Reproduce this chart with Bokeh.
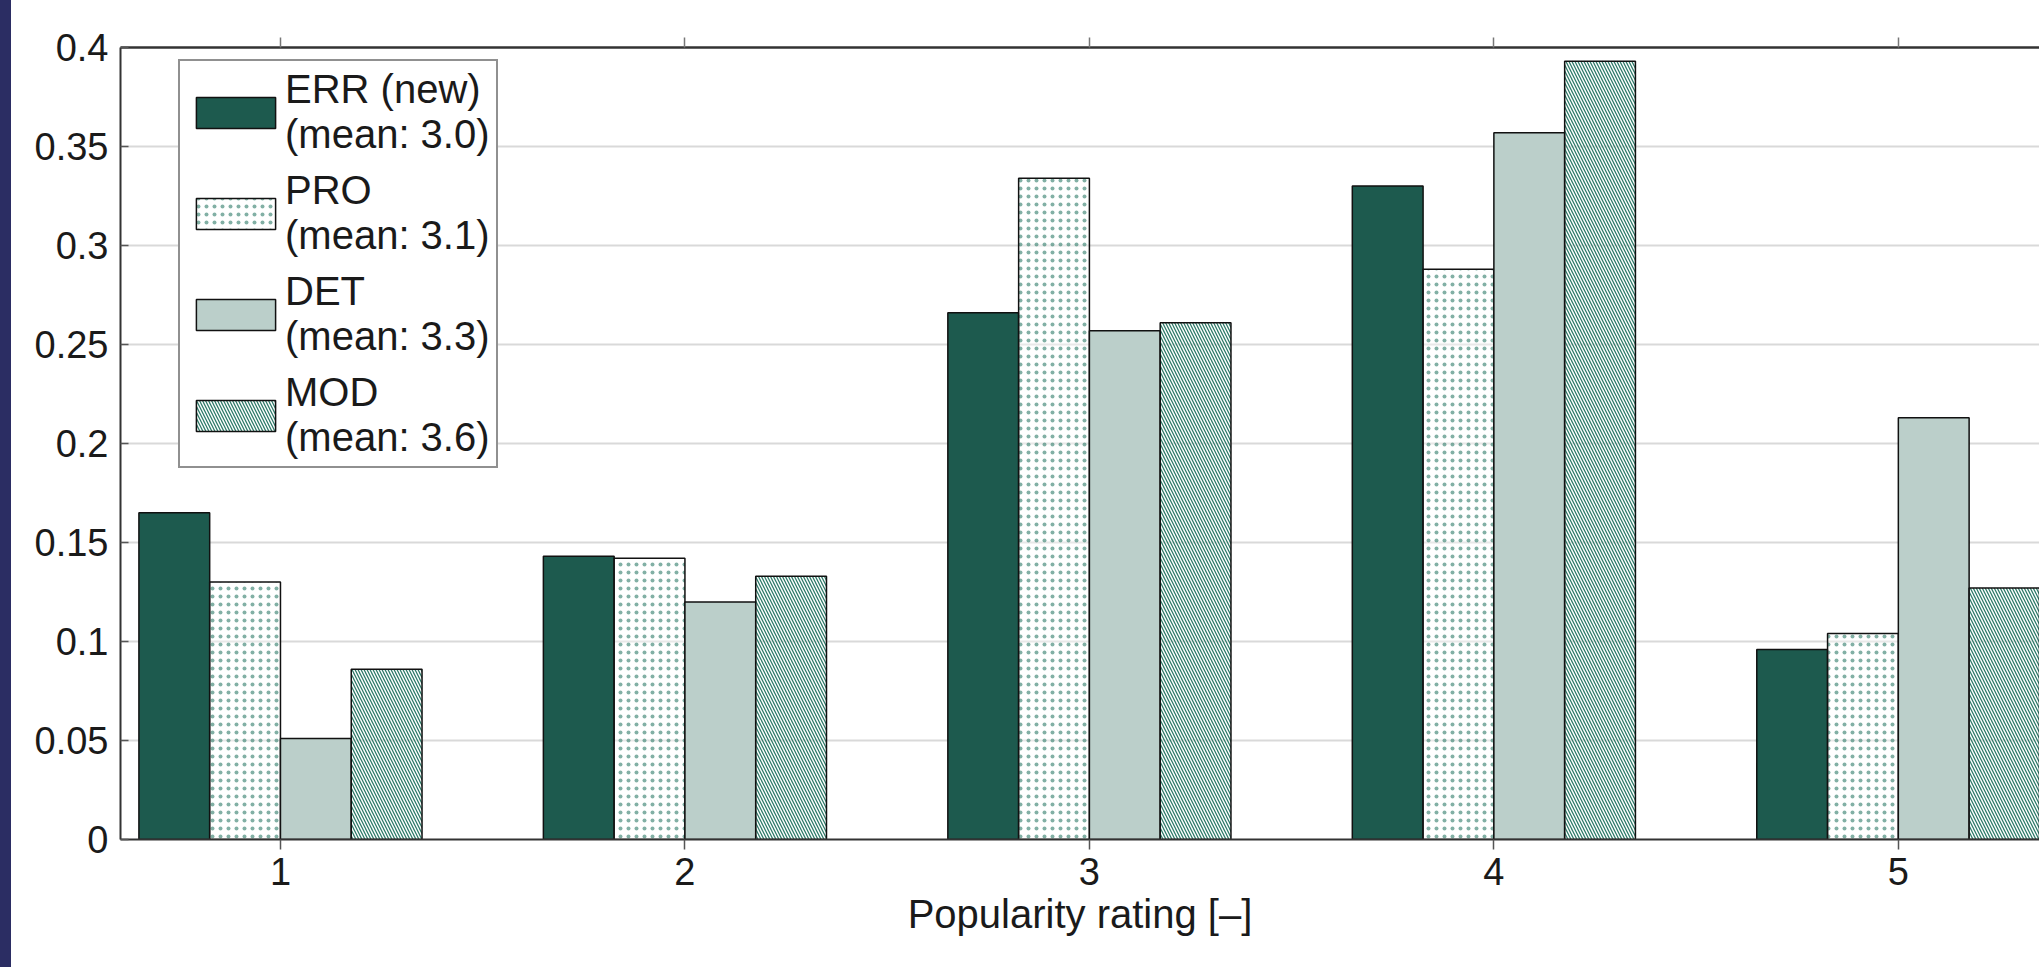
from bokeh.plotting import figure
from bokeh.models import (ColumnDataSource, Range1d, FixedTicker, LinearAxis,
                          Legend, LegendItem, GlobalInlineStyleSheet)
from bokeh.transform import dodge
from bokeh.embed import file_html
from bokeh.resources import INLINE

# ---- data ----
categories = [1, 2, 3, 4, 5]
err = [0.165, 0.143, 0.266, 0.330, 0.096]
pro = [0.130, 0.142, 0.334, 0.288, 0.104]
det = [0.051, 0.120, 0.257, 0.357, 0.213]
mod = [0.086, 0.133, 0.261, 0.393, 0.127]
series_labels = ["ERR (new)\n(mean: 3.0)", "PRO\n(mean: 3.1)",
                 "DET\n(mean: 3.3)", "MOD\n(mean: 3.6)"]
y_ticks = [0, 0.05, 0.1, 0.15, 0.2, 0.25, 0.3, 0.35, 0.4]
y_tick_labels = ["0", "0.05", "0.1", "0.15", "0.2", "0.25", "0.3", "0.35", "0.4"]
x_label = "Popularity rating [–]"

src = ColumnDataSource(dict(x=categories, err=err, pro=pro, det=det, mod=mod))

FONT = "Liberation Sans"
TXT = "#1a1a1a"
DARK = "#1d5a4e"
LIGHT = "#bbcfca"
HATCH = "#2e7b69"

p = figure(width=2039, height=967,
           x_range=Range1d(0.6045, 5.349), y_range=Range1d(0, 0.4),
           output_backend="svg", toolbar_location=None,
           min_border_left=120, min_border_right=0,
           min_border_top=47, min_border_bottom=128,
           x_axis_label=x_label)
p.stylesheets = [GlobalInlineStyleSheet(
    css="body{background: linear-gradient(to right, #2b2d63 11px, #ffffff 11px);}")]
p.border_fill_color = None
p.background_fill_color = "white"
p.outline_line_color = None

bw = 0.175
r_err = p.vbar(x=dodge("x", -1.5 * bw), top="err", width=bw, source=src,
               fill_color=DARK, line_color="#111111", line_width=1.5)
r_pro = p.vbar(x=dodge("x", -0.5 * bw), top="pro", width=bw, source=src,
               fill_color="white", fill_alpha=0.4, line_color="#111111", line_width=1.5,
               hatch_pattern="dot", hatch_color=HATCH, hatch_scale=8,
               hatch_weight=1.0, hatch_alpha=0.6)
r_det = p.vbar(x=dodge("x", 0.5 * bw), top="det", width=bw, source=src,
               fill_color=LIGHT, line_color="#111111", line_width=1.5)
r_mod = p.vbar(x=dodge("x", 1.5 * bw), top="mod", width=bw, source=src,
               fill_color="white", fill_alpha=0.4, line_color="#111111", line_width=1.5,
               hatch_pattern="left_diagonal_line", hatch_color=HATCH,
               hatch_scale=6, hatch_weight=1.3)

# grid
p.xgrid.visible = False
p.ygrid.ticker = FixedTicker(ticks=y_ticks)
p.ygrid.grid_line_color = "#d9d9d9"
p.ygrid.grid_line_width = 2

# axes
xa = p.xaxis[0]
xa.ticker = FixedTicker(ticks=categories)
xa.major_tick_out = 10
xa.major_tick_in = 0
xa.minor_tick_out = 0
xa.minor_tick_in = 0
xa.axis_line_color = "#333333"
xa.axis_line_width = 2
xa.major_tick_line_color = "#555555"
xa.major_tick_line_width = 1.5
xa.major_label_text_font = FONT
xa.major_label_text_font_size = "38px"
xa.major_label_text_color = TXT
xa.major_label_standoff = 8
xa.axis_label_text_font = FONT
xa.axis_label_text_font_size = "40px"
xa.axis_label_text_font_style = "normal"
xa.axis_label_text_color = TXT
xa.axis_label_standoff = 4

ya = p.yaxis[0]
ya.ticker = FixedTicker(ticks=y_ticks)
ya.major_label_overrides = {t: l for t, l in zip(y_ticks, y_tick_labels)}
ya.major_tick_out = 0
ya.major_tick_in = 8
ya.minor_tick_out = 0
ya.minor_tick_in = 0
ya.axis_line_color = "#333333"
ya.axis_line_width = 2
ya.major_tick_line_color = "#555555"
ya.major_tick_line_width = 1.5
ya.major_label_text_font = FONT
ya.major_label_text_font_size = "38px"
ya.major_label_text_color = TXT
ya.major_label_standoff = 12

top = LinearAxis(ticker=FixedTicker(ticks=categories))
top.major_label_text_color = None
top.major_tick_out = 10
top.major_tick_in = 0
top.minor_tick_out = 0
top.minor_tick_in = 0
top.axis_line_color = "#333333"
top.axis_line_width = 2.5
top.major_tick_line_color = "#777777"
top.major_tick_line_width = 1.5
p.add_layout(top, "above")

legend = Legend(items=[LegendItem(label=series_labels[0], renderers=[r_err]),
                       LegendItem(label=series_labels[1], renderers=[r_pro]),
                       LegendItem(label=series_labels[2], renderers=[r_det]),
                       LegendItem(label=series_labels[3], renderers=[r_mod])],
                location=(58, 371))
legend.label_text_font = FONT
legend.label_text_font_size = "40px"
legend.label_text_color = TXT
legend.glyph_width = 99
legend.glyph_height = 39
legend.label_standoff = 0
legend.padding = 6
legend.spacing = 11
legend.margin = 0
legend.border_line_color = "#222222"
legend.border_line_width = 2
legend.background_fill_color = "white"
legend.background_fill_alpha = 1
p.add_layout(legend)

open("out.html", "w").write(file_html(p, INLINE))
